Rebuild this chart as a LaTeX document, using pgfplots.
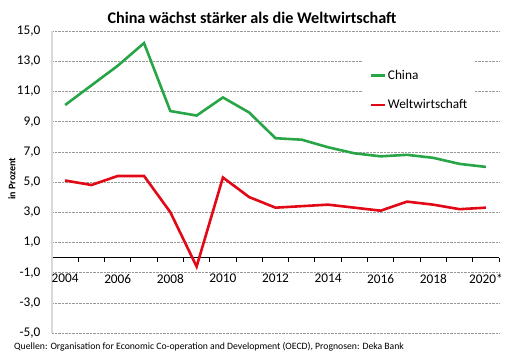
\documentclass[border=0pt]{standalone}
\usepackage{pgfplots}
\pgfplotsset{compat=1.18}
\usepackage{fontspec}
\setmainfont{Carlito}
\definecolor{cgreen}{RGB}{40,165,70}
\definecolor{cred}{RGB}{226,8,22}
\begin{document}
\begin{tikzpicture}[x=1pt,y=1pt]
\path[use as bounding box] (0,0) rectangle (506,357);
\begin{axis}[
 at={(52pt,24pt)}, anchor=south west,
 scale only axis, width=447pt, height=302pt,
 xmin=-0.5, xmax=16.5, ymin=-5, ymax=15,
 axis x line=middle, axis y line=left,
 x axis line style={black, line width=1.1pt, -},
 y axis line style={black!15, line width=1.5pt, -},
 xtick={0,2,...,16},
 xticklabels={2004,2006,2008,2010,2012,2014,2016,2018,2020*},
 minor xtick={-0.5,0.5,...,16.5},
 major tick length=0pt, minor tick length=4pt, tick align=outside,
 minor x tick style={black, line width=0.9pt},
 ytick={-5,-3,...,15},
 ymajorgrids, major grid style={black!40, densely dotted, line width=0.6pt},
 tick label style={font=\fontsize{13.3}{13}\selectfont},
 yticklabel style={xshift=-8pt},
 xticklabel style={yshift=-13pt},
 /pgf/number format/.cd, fixed, fixed zerofill, precision=1, use comma, assume math mode=true,
 /pgfplots/.cd,
 legend style={at={(0.696,0.908)}, anchor=north west, draw=none, fill=white,
   font=\fontsize{13.3}{13}\selectfont, inner xsep=6pt, inner ysep=9pt, row sep=15pt,
   cells={anchor=west}},
 legend image code/.code={\draw[#1] (0pt,0pt) -- (14pt,0pt);},
 legend cell align=left,
]
\addplot[cgreen, line width=2.6pt] coordinates {
(0,10.1) (1,11.4) (2,12.7) (3,14.2) (4,9.7) (5,9.4) (6,10.6) (7,9.6) (8,7.9)
(9,7.8) (10,7.3) (11,6.9) (12,6.7) (13,6.8) (14,6.6) (15,6.2) (16,6.0)};
\addlegendentry{China}
\addplot[cred, line width=2.6pt] coordinates {
(0,5.1) (1,4.8) (2,5.4) (3,5.4) (4,3.0) (5,-0.6) (6,5.3) (7,4.0) (8,3.3)
(9,3.4) (10,3.5) (11,3.3) (12,3.1) (13,3.7) (14,3.5) (15,3.2) (16,3.3)};
\addlegendentry{Weltwirtschaft}
\end{axis}
\node[font=\bfseries\fontsize{16.2}{17}\selectfont] at (252,339.5) {China wächst stärker als die Weltwirtschaft};
\node[anchor=west, inner sep=0pt, font=\fontsize{9.7}{10}\selectfont] at (14,10) {Quellen: Organisation for Economic Co-operation and Development (OECD), Prognosen: Deka Bank};
\node[rotate=90, font=\bfseries\fontsize{10}{10}\selectfont] at (12,178) {in Prozent};
\end{tikzpicture}
\end{document}
